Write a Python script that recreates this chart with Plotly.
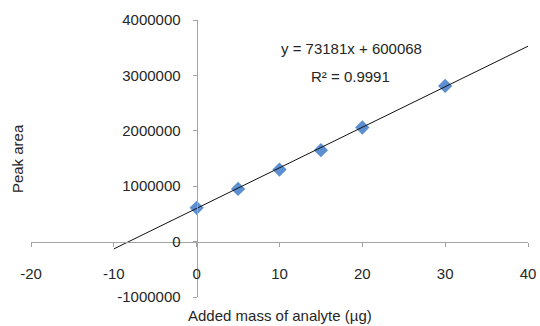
import plotly.graph_objects as go

# Standard-addition calibration data
added_mass_ug = [0, 5, 10, 15, 20, 30]
peak_area = [610000, 950000, 1300000, 1650000, 2060000, 2810000]

# Linear trendline reported for the series
slope = 73181
intercept = 600068
r_squared = 0.9991
trend_x = [-10, 40]

x_tickvals = [-20, -10, 0, 10, 20, 30, 40]
x_ticktext = ["-20", "-10", "0", "10", "20", "30", "40"]
y_tickvals = [-1000000, 0, 1000000, 2000000, 3000000, 4000000]
y_ticktext = ["-1000000", "0", "1000000", "2000000", "3000000", "4000000"]

x_range = [-20, 40]
y_range = [-1000000, 4000000]

axis_grey = "#a3a3a3"
text_col = "#262626"
font_family = "Liberation Sans, Arial, sans-serif"

trend_y = [slope * x + intercept for x in trend_x]

fig = go.Figure()
fig.add_trace(go.Scatter(
    x=added_mass_ug, y=peak_area, mode="markers",
    marker=dict(symbol="diamond", size=11, color="#5b8fd1",
                line=dict(width=0)),
    showlegend=False, hoverinfo="x+y",
))
fig.add_trace(go.Scatter(
    x=trend_x, y=trend_y, mode="lines",
    line=dict(color="#111111", width=1),
    showlegend=False, hoverinfo="skip",
))

# position the axes where the other axis crosses zero
x_zero_frac = (0 - y_range[0]) / (y_range[1] - y_range[0])
y_zero_frac = (0 - x_range[0]) / (x_range[1] - x_range[0])

fig.update_layout(
    width=540, height=326,
    margin=dict(l=31, r=12, t=20, b=29, autoexpand=False),
    paper_bgcolor="white", plot_bgcolor="white",
    font=dict(family=font_family, size=15, color=text_col),
    xaxis=dict(
        range=x_range, tickvals=x_tickvals, ticktext=x_ticktext,
        anchor="free", position=x_zero_frac, automargin=False,
        showline=True, linecolor=axis_grey, linewidth=1,
        ticks="outside", ticklen=4, tickcolor=axis_grey, tickwidth=1,
        showgrid=False, zeroline=False, ticklabelstandoff=14,
        ticklabeloverflow="allow", fixedrange=True,
    ),
    yaxis=dict(
        range=y_range, tickvals=y_tickvals, ticktext=y_ticktext,
        anchor="free", position=y_zero_frac, automargin=False,
        showline=True, linecolor=axis_grey, linewidth=1,
        ticks="outside", ticklen=4, tickcolor=axis_grey, tickwidth=1,
        showgrid=False, zeroline=False, ticklabelstandoff=9,
        fixedrange=True,
    ),
    annotations=[
        dict(x=18.75, y=3485000, xref="x", yref="y", showarrow=False,
             text=f"y = {slope}x + {intercept}", font=dict(size=15)),
        dict(x=18.6, y=2980000, xref="x", yref="y", showarrow=False,
             text=f"R² = {r_squared}", font=dict(size=15)),
        dict(x=0.5, y=-0.065, xref="paper", yref="paper", showarrow=False,
             text="Added mass of analyte (µg)", font=dict(size=15),
             yanchor="middle"),
        dict(x=-0.027, y=0.5, xref="paper", yref="paper", showarrow=False,
             text="Peak area", textangle=-90, font=dict(size=15),
             xanchor="center"),
    ],
)

fig.write_html("out.html")
